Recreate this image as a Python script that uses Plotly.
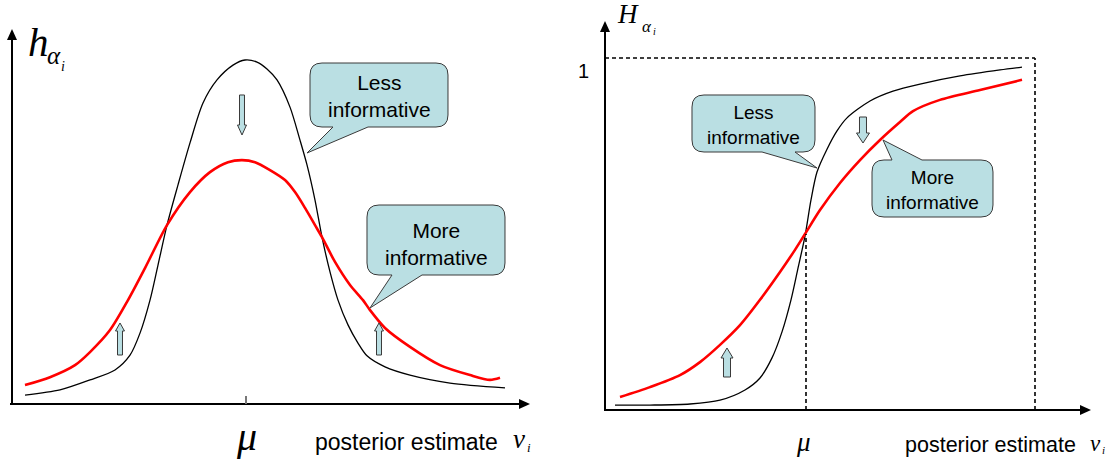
import plotly.graph_objects as go

W, H = 1110, 461

# ---------------- data (logical units) ----------------
# Left panel: density h_alpha_i vs posterior estimate (mu at 0)
left_x_black = [-4.42, -3.72, -3.12, -2.62, -2.32, -2.12, -1.92, -1.76, -1.58, -1.36, -1.12, -0.86,
                -0.58, -0.26, -0.02, 0.22, 0.42, 0.62, 0.88, 1.08, 1.22, 1.38, 1.52, 1.68, 1.84,
                2.04, 2.24, 2.42, 2.78, 3.28, 4.08, 5.18]
left_y_black = [0.026, 0.041, 0.070, 0.099, 0.142, 0.206, 0.302, 0.404, 0.520, 0.637, 0.759, 0.875,
                0.942, 0.985, 1.000, 0.994, 0.974, 0.942, 0.863, 0.767, 0.695, 0.593, 0.485, 0.384,
                0.302, 0.230, 0.177, 0.140, 0.108, 0.084, 0.061, 0.047]
left_x_red = [-4.42, -3.92, -3.42, -3.12, -2.72, -2.36, -2.02, -1.58, -1.12, -0.72, -0.36, -0.08,
              0.18, 0.48, 0.78, 0.98, 1.18, 1.38, 1.52, 1.78, 2.08, 2.34, 2.48, 2.78, 3.28, 3.88,
              4.48, 4.88, 5.08]
left_y_red = [0.055, 0.078, 0.113, 0.151, 0.215, 0.302, 0.395, 0.520, 0.616, 0.674, 0.703, 0.709,
              0.703, 0.680, 0.651, 0.616, 0.570, 0.520, 0.485, 0.413, 0.346, 0.302, 0.273, 0.221,
              0.166, 0.113, 0.084, 0.070, 0.076]

# Right panel: cumulative H_alpha_i vs posterior estimate (mu at 0)
right_x_black = [-3.82, -3.12, -2.32, -1.72, -1.22, -0.92, -0.68, -0.48, -0.30, -0.16, -0.02, 0.10,
                 0.22, 0.42, 0.62, 0.82, 1.28, 1.74, 2.28, 3.08, 3.88, 4.32]
right_y_black = [0.014, 0.014, 0.017, 0.028, 0.057, 0.091, 0.148, 0.222, 0.313, 0.403, 0.494, 0.597,
                 0.676, 0.741, 0.793, 0.830, 0.878, 0.906, 0.926, 0.949, 0.966, 0.974]
right_x_red = [-3.72, -3.12, -2.52, -2.12, -1.72, -1.32, -0.92, -0.52, -0.22, -0.02, 0.28, 0.68,
               1.08, 1.48, 1.88, 2.14, 2.68, 3.48, 4.32]
right_y_red = [0.037, 0.065, 0.099, 0.136, 0.185, 0.241, 0.313, 0.392, 0.455, 0.500, 0.568, 0.645,
               0.710, 0.767, 0.818, 0.849, 0.881, 0.909, 0.938]

mu = 0.0
cdf_top = 1.0
cdf_at_mu = 0.5
right_x_end = 4.58

less_text = "Less<br>informative"
more_text = "More<br>informative"
xlabel_text = "posterior estimate"
one_label = "1"

# ---------------- geometry helpers ----------------
SANS = "Liberation Sans, Arial, sans-serif"
SERIF = "Liberation Serif, Times New Roman, serif"
FILL = "#badfe3"
EDGE = "#3a3a3a"


def P(px, py):
    return f"{px / W:.5f},{1 - py / H:.5f}"


def xp(px):
    return px / W


def yp(py):
    return 1 - py / H


def callout_path(x0, y0, x1, y1, tip, base, side, r=12):
    a, b = base
    tx, ty = tip
    if side == "bottom":
        return (f"M {P(x0 + r, y0)} L {P(x1 - r, y0)} Q {P(x1, y0)} {P(x1, y0 + r)} "
                f"L {P(x1, y1 - r)} Q {P(x1, y1)} {P(x1 - r, y1)} L {P(b, y1)} L {P(tx, ty)} "
                f"L {P(a, y1)} L {P(x0 + r, y1)} Q {P(x0, y1)} {P(x0, y1 - r)} "
                f"L {P(x0, y0 + r)} Q {P(x0, y0)} {P(x0 + r, y0)} Z")
    return (f"M {P(x0 + r, y0)} L {P(a, y0)} L {P(tx, ty)} L {P(b, y0)} L {P(x1 - r, y0)} "
            f"Q {P(x1, y0)} {P(x1, y0 + r)} L {P(x1, y1 - r)} Q {P(x1, y1)} {P(x1 - r, y1)} "
            f"L {P(x0 + r, y1)} Q {P(x0, y1)} {P(x0, y1 - r)} "
            f"L {P(x0, y0 + r)} Q {P(x0, y0)} {P(x0 + r, y0)} Z")


def block_arrow(x, ytip, ytail, hw=4.5, sw=2.5, hl=8):
    s = 1 if ytail > ytip else -1
    yb = ytip + s * hl
    pts = [(x, ytip), (x + hw, yb), (x + sw, yb), (x + sw, ytail), (x - sw, ytail), (x - sw, yb), (x - hw, yb)]
    return "M " + " L ".join(P(a, b) for a, b in pts) + " Z"


def tri(tip, direction, length=11, half=5):
    tx, ty = tip
    if direction == "up":
        pts = [(tx, ty), (tx + half, ty + length), (tx - half, ty + length)]
    else:  # right
        pts = [(tx, ty), (tx - length, ty - half), (tx - length, ty + half)]
    return "M " + " L ".join(P(a, b) for a, b in pts) + " Z"


fig = go.Figure()

fig.add_trace(go.Scatter(x=left_x_black, y=left_y_black, mode="lines", line=dict(color="black", width=1.3, shape="spline", smoothing=0.8), xaxis="x", yaxis="y", hoverinfo="skip"))
fig.add_trace(go.Scatter(x=left_x_red, y=left_y_red, mode="lines", line=dict(color="#ff0000", width=2.6, shape="spline", smoothing=0.8), xaxis="x", yaxis="y", hoverinfo="skip"))
fig.add_trace(go.Scatter(x=right_x_black, y=right_y_black, mode="lines", line=dict(color="black", width=1.3, shape="spline", smoothing=0.8), xaxis="x2", yaxis="y2", hoverinfo="skip"))
fig.add_trace(go.Scatter(x=right_x_red, y=right_y_red, mode="lines", line=dict(color="#ff0000", width=2.6, shape="spline", smoothing=0.8), xaxis="x2", yaxis="y2", hoverinfo="skip"))

ax_common = dict(visible=False, showgrid=False, zeroline=False, fixedrange=True)
fig.update_layout(
    width=W, height=H, margin=dict(l=0, r=0, t=0, b=0),
    paper_bgcolor="white", plot_bgcolor="rgba(0,0,0,0)", showlegend=False,
    xaxis=dict(domain=[xp(12), xp(528)], range=[(12 - 246) / 50, (528 - 246) / 50], **ax_common),
    yaxis=dict(domain=[yp(404), yp(30)], range=[0, (404 - 30) / 344], **ax_common),
    xaxis2=dict(domain=[xp(605), xp(1090)], range=[(605 - 806) / 50, (1090 - 806) / 50], anchor="y2", **ax_common),
    yaxis2=dict(domain=[yp(410), yp(22)], range=[0, (410 - 22) / 352], anchor="x2", **ax_common),
)

shapes = []
# axes with arrow heads
line_style = dict(color="black", width=2)
shapes.append(dict(type="line", xref="paper", yref="paper", x0=xp(12), y0=yp(405), x1=xp(12), y1=yp(38), line=line_style))
shapes.append(dict(type="path", xref="paper", yref="paper", path=tri((12, 29), "up"), fillcolor="black", line=dict(width=0)))
shapes.append(dict(type="line", xref="paper", yref="paper", x0=xp(10), y0=yp(404), x1=xp(520), y1=yp(404), line=line_style))
shapes.append(dict(type="path", xref="paper", yref="paper", path=tri((530, 404), "right"), fillcolor="black", line=dict(width=0)))
shapes.append(dict(type="line", xref="paper", yref="paper", x0=xp(605), y0=yp(411), x1=xp(605), y1=yp(30), line=line_style))
shapes.append(dict(type="path", xref="paper", yref="paper", path=tri((605, 21), "up"), fillcolor="black", line=dict(width=0)))
shapes.append(dict(type="line", xref="paper", yref="paper", x0=xp(604), y0=yp(410), x1=xp(1080), y1=yp(410), line=line_style))
shapes.append(dict(type="path", xref="paper", yref="paper", path=tri((1091, 410), "right"), fillcolor="black", line=dict(width=0)))

# tick at mu (left)
shapes.append(dict(type="line", xref="x", yref="paper", x0=mu, x1=mu, y0=yp(404), y1=yp(396), line=dict(color="#777777", width=2)))

# dashed guide lines (right)
dash = dict(color="black", width=1.6, dash="4px,3px")
shapes.append(dict(type="line", xref="x2", yref="y2", x0=mu, x1=mu, y0=0, y1=cdf_at_mu, line=dash))
shapes.append(dict(type="line", xref="x2", yref="y2", x0=right_x_end, x1=right_x_end, y0=0, y1=cdf_top, line=dash))
shapes.append(dict(type="line", xref="x2", yref="y2", x0=(605 - 806) / 50, x1=right_x_end, y0=cdf_top, y1=cdf_top, line=dash))

# callouts
co = dict(type="path", xref="paper", yref="paper", fillcolor=FILL, line=dict(color=EDGE, width=1))
shapes.append(dict(path=callout_path(310, 63, 448, 127, (307, 153), (333, 368), "bottom"), **co))
shapes.append(dict(path=callout_path(367, 205, 505, 275, (370, 308), (392, 422), "bottom"), **co))
shapes.append(dict(path=callout_path(692, 95, 815, 152, (817, 168), (762, 795), "bottom"), **co))
shapes.append(dict(path=callout_path(872, 160, 993, 217, (883, 140), (892, 922), "top"), **co))

# block arrows
ba = dict(type="path", xref="paper", yref="paper", fillcolor=FILL, line=dict(color=EDGE, width=1))
shapes.append(dict(path=block_arrow(242, 135, 95, hw=4.5, sw=2.5, hl=10), **ba))
shapes.append(dict(path=block_arrow(120, 323, 355), **ba))
shapes.append(dict(path=block_arrow(379, 323, 355), **ba))
shapes.append(dict(path=block_arrow(863, 143, 117, hw=6.5, sw=3.5, hl=10), **ba))
shapes.append(dict(path=block_arrow(727, 348, 377, hw=6, sw=3.5, hl=10), **ba))

fig.update_layout(shapes=shapes)


def txt(s, px, py, size, family=SANS, xanchor="center"):
    fig.add_annotation(text=s, x=xp(px), y=yp(py), xref="paper", yref="paper", showarrow=False,
                       xanchor=xanchor, yanchor="middle", font=dict(size=size, family=family, color="black"))


# callout texts
txt(less_text, 379, 96, 21)
txt(more_text, 436, 244, 21)
txt(less_text, 753, 125, 19)
txt(more_text, 932, 190, 19)

# axis labels left
txt("<i>h</i>", 38, 42, 41, SERIF)
txt("<i>α</i>", 54, 56, 25, SERIF)
txt("<i>i</i>", 63, 66, 14, SERIF)
txt("<i>μ</i>", 246, 436, 40, SERIF)
txt(xlabel_text, 313, 442, 23, SANS, xanchor="left")
txt("<i>v</i>", 519, 439, 27, SERIF)
txt("<i>i</i>", 529, 447, 13, SERIF)

# axis labels right
txt("<i>H</i>", 628, 14, 27, SERIF)
txt("<i>α</i>", 647, 27, 17, SERIF)
txt("<i>i</i>", 654, 32, 10, SERIF)
txt(one_label, 583, 71, 20)
txt("<i>μ</i>", 803, 442, 27, SERIF)
txt(xlabel_text, 903, 445, 21.5, SANS, xanchor="left")
txt("<i>v</i>", 1095, 443, 23, SERIF)
txt("<i>i</i>", 1103, 450, 11, SERIF)

fig.write_html("out.html", config={"displayModeBar": False},
               post_script="document.body.style.margin='0px';document.body.style.overflow='hidden';")
